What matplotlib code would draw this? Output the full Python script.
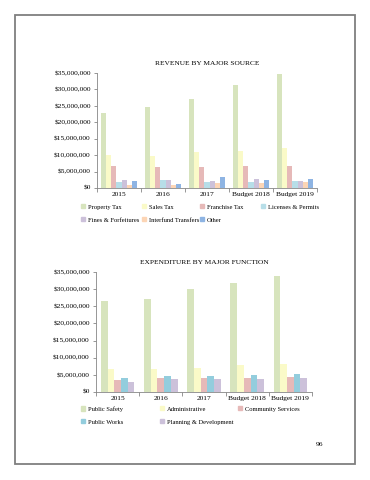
import matplotlib.pyplot as plt
import matplotlib.patches as mpatches
import numpy as np

plt.rcParams['font.family'] = ['Liberation Serif', 'DejaVu Serif']

years = ['2015', '2016', '2017', 'Budget 2018', 'Budget 2019']

# revenue, millions of dollars
rev_names = ['Property Tax', 'Sales Tax', 'Franchise Tax', 'Licenses & Permits',
             'Fines & Forfeitures', 'Interfund Transfers', 'Other']
property_tax = [22.8, 24.5, 27.0, 31.4, 34.7]
sales_tax = [10.0, 9.7, 11.0, 11.4, 12.2]
franchise_tax = [6.6, 6.5, 6.5, 6.6, 6.8]
licenses = [1.8, 2.3, 1.9, 1.9, 2.1]
fines = [2.5, 2.5, 2.2, 2.6, 2.1]
interfund = [0.8, 0.8, 1.4, 1.5, 1.9]
other = [2.1, 1.3, 3.2, 2.4, 2.7]
rev_colors = ['#d7e4bd', '#fafac8', '#e6b9b8', '#b7dee8', '#ccc1da', '#fcd5b5', '#8eb4e3']

# expenditure, millions of dollars
exp_names = ['Public Safety', 'Administrative', 'Community Services',
             'Public Works', 'Planning & Development']
public_safety = [26.5, 27.1, 30.0, 31.7, 33.7]
administrative = [6.8, 6.7, 6.9, 7.8, 8.1]
community = [3.4, 4.0, 4.2, 4.2, 4.3]
public_works = [4.1, 4.7, 4.6, 5.0, 5.2]
planning = [2.9, 3.7, 3.8, 3.8, 4.1]
exp_colors = ['#d7e4bd', '#fafac8', '#e6b9b8', '#93cddd', '#ccc1da']

W, H = 370, 480
fig = plt.figure(figsize=(W / 100, H / 100), dpi=100)
FS = 5.3
LFS = 4.7
GRAY = '#868686'


def draw(rect, series, colors, title, barw):
    ax = fig.add_axes(rect)
    x = np.arange(len(years))
    n = len(series)
    for i, (vals, c) in enumerate(zip(series, colors)):
        ax.bar(x + (i - (n - 1) / 2) * barw, np.array(vals) * 1e6, barw, color=c)
    ax.set_xlim(-0.5, len(years) - 0.5)
    ax.set_ylim(0, 35e6)
    ax.set_yticks(np.arange(0, 35e6 + 1, 5e6))
    ax.set_yticklabels(['$0'] + ['${:,.0f}'.format(v) for v in np.arange(5e6, 35e6 + 1, 5e6)])
    ax.set_xticks(x)
    ax.set_xticklabels(years)
    ax.set_xticks(np.arange(-0.5, len(years)), minor=True)
    ax.tick_params(axis='x', which='major', length=0, labelsize=FS, pad=3)
    ax.tick_params(axis='x', which='minor', length=3, color=GRAY, width=0.6)
    ax.tick_params(axis='y', length=2.5, color=GRAY, width=0.6, labelsize=FS, pad=2)
    for s in ['top', 'right']:
        ax.spines[s].set_visible(False)
    for s in ['left', 'bottom']:
        ax.spines[s].set_color(GRAY)
        ax.spines[s].set_linewidth(0.6)
    ax.set_title(title, fontsize=FS, pad=6)
    return ax


def legend_cols(names, colors, xs, y0, dy):
    ncol = len(xs)
    for k, (nm, c) in enumerate(zip(names, colors)):
        col, row = k % ncol, k // ncol
        h = mpatches.Patch(color=c)
        fig.legend(handles=[h], labels=[nm], loc='center left',
                   bbox_to_anchor=(xs[col] / W, 1 - (y0 + row * dy) / H),
                   frameon=False, fontsize=LFS, handlelength=0.6,
                   handleheight=0.6, handletextpad=0.45, borderpad=0,
                   borderaxespad=0)


draw([97 / W, 1 - 188 / H, 220 / W, 115 / H],
     [property_tax, sales_tax, franchise_tax, licenses, fines, interfund, other],
     rev_colors, 'REVENUE BY MAJOR SOURCE', 0.118)
legend_cols(rev_names, rev_colors, [81, 142, 200, 261], 207, 13)

draw([96 / W, 1 - 392 / H, 216 / W, 120 / H],
     [public_safety, administrative, community, public_works, planning],
     exp_colors, 'EXPENDITURE BY MAJOR FUNCTION', 0.155)
legend_cols(exp_names, exp_colors, [81, 160, 238], 409, 13)

# page frame and number
fig.add_artist(mpatches.Rectangle((14.5 / W, 1 - 464 / H), (355 - 14.5) / W, (464 - 14.5) / H,
                                  transform=fig.transFigure, fill=False,
                                  edgecolor='#7f7f7f', linewidth=1.3))
fig.text(319 / W, 1 - 445 / H, '96', fontsize=FS, ha='center', va='center')

fig.savefig('out.png', dpi=100)
